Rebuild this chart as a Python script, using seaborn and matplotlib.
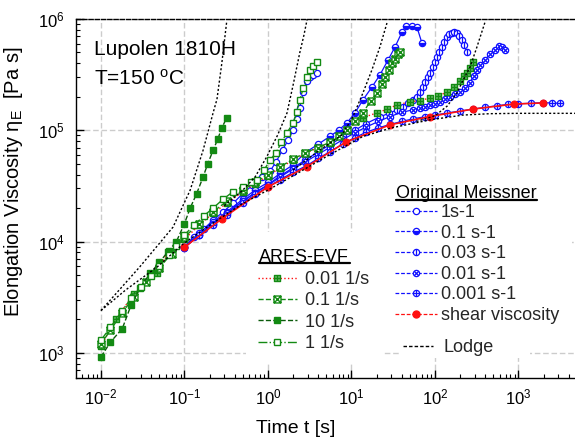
import numpy as np
import pandas as pd
import matplotlib
matplotlib.use("Agg")
import matplotlib.pyplot as plt
import seaborn as sns
from matplotlib.path import Path
from matplotlib.patches import Rectangle
from matplotlib.lines import Line2D

# ---------------- data ----------------
# ARES-EVF, 10 1/s
ares10_t = [0.01, 0.013, 0.018, 0.023, 0.029, 0.039, 0.05, 0.065, 0.08, 0.1, 0.117, 0.14, 0.167, 0.19, 0.22, 0.25, 0.28, 0.32]
ares10_eta = [920, 1250, 1650, 2700, 3800, 5200, 6500, 8300, 1.0e4, 1.45e4, 2.0e4, 2.7e4, 3.8e4, 5.0e4, 6.6e4, 8.3e4, 1.05e5, 1.29e5]
# ARES-EVF, 1 1/s
ares1_t = [0.01, 0.013, 0.018, 0.023, 0.03, 0.04, 0.05, 0.065, 0.08, 0.1, 0.13, 0.17, 0.22, 0.29, 0.38, 0.5, 0.62, 0.74,
           0.9, 1.06, 1.25, 1.45, 1.69, 2.0, 2.2, 2.4, 2.65, 2.9, 3.2, 3.5, 3.87]
ares1_eta = [1300, 1700, 2400, 3100, 3900, 4900, 6000, 7600, 9200, 1.15e4, 1.4e4, 1.7e4, 2.0e4, 2.4e4, 2.8e4, 3.1e4, 3.4e4, 3.6e4,
             4.4e4, 5.4e4, 6.3e4, 7.8e4, 9.5e4, 1.16e5, 1.45e5, 1.87e5, 2.4e5, 3.0e5, 3.5e5, 3.8e5, 4.1e5]
# ARES-EVF, 0.1 1/s
ares01_t = [0.01, 0.013, 0.018, 0.025, 0.035, 0.05, 0.07, 0.1, 0.15, 0.22, 0.32, 0.5, 0.7, 1.0, 1.4, 2.0, 2.8, 4.0, 5.5, 7.0,
            8.8, 11, 13.7, 17, 20, 23, 25, 28, 30.5, 33, 36, 38]
ares01_eta = [1200, 1600, 2300, 3200, 4300, 5800, 7800, 1.1e4, 1.45e4, 1.85e4, 2.3e4, 2.9e4, 3.4e4, 4.0e4, 4.7e4, 5.5e4, 6.3e4,
              7.0e4, 7.8e4, 8.8e4, 1.0e5, 1.2e5, 1.43e5, 1.85e5, 2.16e5, 2.6e5, 3.0e5, 3.5e5, 4.0e5, 4.4e5, 4.8e5, 5.0e5]
# ARES-EVF, 0.01 1/s
ares001_t = [0.01, 0.015, 0.025, 0.047, 0.063, 0.1, 0.15, 0.22, 0.32, 0.5, 0.7, 1.0, 1.4, 2.0, 2.8, 4.0, 5.5, 8.8, 13.7, 20,
             27, 35, 50, 66, 87, 110, 139, 170, 200, 225, 241, 265, 285]
ares001_eta = [1150, 2000, 3400, 5200, 8000, 1.05e4, 1.4e4, 1.8e4, 2.2e4, 2.8e4, 3.3e4, 3.9e4, 4.6e4, 5.4e4, 6.2e4, 7.0e4,
               7.7e4, 1.0e5, 1.3e5, 1.43e5, 1.55e5, 1.69e5, 1.8e5, 1.85e5, 1.95e5, 2.05e5, 2.2e5, 2.45e5, 2.75e5, 3.05e5,
               3.3e5, 3.6e5, 4.1e5]

# Original Meissner, 1 s-1
m1_t = [0.1, 0.13, 0.17, 0.22, 0.29, 0.38, 0.5, 0.65, 0.85, 1.06, 1.25, 1.5, 1.75, 2.0, 2.2, 2.4, 2.65, 2.9, 3.2, 3.5, 3.87]
m1_eta = [9.0e3, 1.1e4, 1.3e4, 1.55e4, 1.85e4, 2.2e4, 2.7e4, 3.2e4, 3.8e4, 4.3e4, 5.2e4, 6.7e4, 8.2e4, 1.0e5, 1.25e5,
          1.6e5, 2.2e5, 2.8e5, 3.0e5, 3.15e5, 3.25e5]
# Original Meissner, 0.1 s-1
m01_t = [0.1, 0.15, 0.22, 0.32, 0.5, 0.7, 1.0, 1.4, 2.0, 2.8, 4.0, 5.5, 7.0, 8.8, 11.0, 13.7, 17.6, 21.9, 27.4, 33.2,
         40.3, 45, 53, 60.8, 69.8]
m01_eta = [9.0e3, 1.2e4, 1.5e4, 1.85e4, 2.4e4, 2.9e4, 3.4e4, 4.1e4, 4.9e4, 6.3e4, 7.5e4, 8.8e4, 1.0e5, 1.16e5, 1.43e5,
           1.87e5, 2.45e5, 3.14e5, 4.28e5, 5.6e5, 7.64e5, 8.65e5, 8.65e5, 8.47e5, 6.08e5]
# Original Meissner, 0.03 s-1
m003_t = [0.1, 0.15, 0.22, 0.32, 0.5, 0.7, 1.0, 1.4, 2.0, 2.8, 4.0, 5.5, 8.0, 11, 15, 21.9, 28, 35, 41, 47.5, 54, 60.8,
          66, 71.8, 77, 82, 88, 94.6, 100, 106, 113, 121, 130, 139, 149, 160, 171, 183, 196, 210, 225, 241]
m003_eta = [8.8e3, 1.15e4, 1.45e4, 1.8e4, 2.3e4, 2.75e4, 3.25e4, 3.9e4, 4.6e4, 5.4e4, 6.4e4, 7.4e4, 8.8e4, 1.0e5, 1.15e5,
            1.32e5, 1.42e5, 1.52e5, 1.63e5, 1.76e5, 1.88e5, 2.0e5, 2.2e5, 2.45e5, 2.7e5, 3.0e5, 3.3e5, 3.7e5, 4.1e5,
            4.56e5, 5.0e5, 5.6e5, 6.2e5, 6.9e5, 7.3e5, 7.5e5, 7.6e5, 7.5e5, 7.1e5, 6.5e5, 5.8e5, 5.0e5]
# Original Meissner, 0.01 s-1
m001_t = [0.1, 0.15, 0.22, 0.32, 0.5, 0.7, 1.0, 1.4, 2.0, 2.8, 4.0, 5.5, 8.0, 11, 15, 21, 29, 40, 55, 66, 77, 87, 100,
          115, 132, 151, 175, 200, 230, 262, 290, 318, 350, 398, 450, 525, 583, 640, 689]
m001_eta = [8.8e3, 1.15e4, 1.45e4, 1.8e4, 2.3e4, 2.75e4, 3.2e4, 3.8e4, 4.5e4, 5.2e4, 6.1e4, 7.0e4, 8.3e4, 9.5e4, 1.07e5,
            1.2e5, 1.33e5, 1.45e5, 1.53e5, 1.58e5, 1.63e5, 1.69e5, 1.74e5, 1.8e5, 1.9e5, 2.0e5, 2.1e5, 2.2e5, 2.4e5,
            2.66e5, 3.1e5, 3.5e5, 3.9e5, 4.3e5, 4.8e5, 5.3e5, 5.7e5, 5.6e5, 5.3e5]
# Original Meissner, 0.001 s-1
m0001_t = [0.1, 0.15, 0.22, 0.32, 0.5, 0.7, 1.0, 1.4, 2.0, 2.9, 4.0, 5.5, 8.0, 11, 15, 21, 29, 40, 55, 75, 100, 140, 200,
           285, 400, 550, 750, 1000, 1400, 1950, 2500, 3140]
m0001_eta = [8.9e3, 1.15e4, 1.4e4, 1.75e4, 2.2e4, 2.65e4, 3.1e4, 3.6e4, 4.2e4, 4.8e4, 5.6e4, 6.4e4, 7.6e4, 8.6e4, 9.6e4,
             1.05e5, 1.13e5, 1.2e5, 1.27e5, 1.32e5, 1.37e5, 1.43e5, 1.49e5, 1.55e5, 1.61e5, 1.66e5, 1.71e5, 1.73e5,
             1.75e5, 1.77e5, 1.76e5, 1.75e5]
# shear viscosity
shear_t = [0.1, 0.28, 1.0, 2.9, 8.6, 29, 87, 285, 880, 1950]
shear_eta = [8.9e3, 1.6e4, 3.1e4, 4.7e4, 7.85e4, 1.12e5, 1.33e5, 1.55e5, 1.72e5, 1.76e5]

# Lodge model curves
lodge_lve_t = [0.01, 0.02, 0.047, 0.096, 0.2, 0.5, 1.0, 2.0, 5.0, 13.7, 30, 87, 216, 457, 1000, 2000, 5000]
lodge_lve_eta = [2400, 3700, 5900, 9500, 1.4e4, 2.2e4, 2.9e4, 3.9e4, 5.8e4, 8.8e4, 1.05e5, 1.24e5, 1.37e5, 1.41e5,
                 1.42e5, 1.42e5, 1.42e5]
lodge10_t = [0.01, 0.029, 0.073, 0.117, 0.167, 0.22, 0.245, 0.28, 0.32]
lodge10_eta = [2400, 5900, 1.35e4, 2.9e4, 6.6e4, 1.43e5, 1.9e5, 4.0e5, 9.4e5]
lodge1_t = [0.3, 0.5, 0.7, 0.97, 1.3, 1.69, 2.0, 2.4, 2.7, 2.95]
lodge1_eta = [2.1e4, 2.9e4, 3.8e4, 5.8e4, 9.0e4, 1.43e5, 2.55e5, 4.95e5, 7.2e5, 1.0e6]
lodge01_t = [2.0, 4.0, 7.7, 10.4, 13.7, 17.6, 21.9, 26.6]
lodge01_eta = [4.4e4, 6.5e4, 9.1e4, 1.32e5, 2.16e5, 3.5e5, 5.6e5, 9.2e5]
lodge001_t = [60, 100, 140, 183, 216, 263, 318, 398]
lodge001_eta = [1.2e5, 1.35e5, 1.65e5, 2.16e5, 2.8e5, 3.7e5, 5.6e5, 9.4e5]

ares_labels = ["0.01 1/s", "0.1 1/s", "10 1/s", "1 1/s"]
meissner_labels = ["1s-1", "0.1 s-1", "0.03 s-1", "0.01 s-1", "0.001 s-1", "shear viscosity"]

# ---------------- style ----------------
sns.set_theme(style="white")
plt.rcParams['font.family'] = ['Liberation Sans', 'DejaVu Sans']
plt.rcParams['mathtext.fontset'] = 'custom'
plt.rcParams['mathtext.rm'] = 'Liberation Sans'
plt.rcParams['mathtext.it'] = 'Liberation Sans:italic'
plt.rcParams['mathtext.default'] = 'regular'

W, H = 575, 444
fig = plt.figure(figsize=(W / 100, H / 100), dpi=100)
L, R, T, B = 76, 575, 19, 378
ax = fig.add_axes([L / W, 1 - B / H, (R - L) / W, (B - T) / H])
ax.set_xscale('log')
ax.set_yscale('log')
ax.set_xlim(10 ** -2.299, 10 ** 3.677)
ax.set_ylim(10 ** 2.774, 1e6)


def fx(x):
    return x / W


def fy(y):
    return 1 - y / H


# marker paths
circ = Path.unit_circle()
vl = Path([[0, -1], [0, 1]], [Path.MOVETO, Path.LINETO])
hl = Path([[-1, 0], [1, 0]], [Path.MOVETO, Path.LINETO])
d1 = Path([[-0.7, -0.7], [0.7, 0.7]], [Path.MOVETO, Path.LINETO])
d2 = Path([[-0.7, 0.7], [0.7, -0.7]], [Path.MOVETO, Path.LINETO])
circ_v = Path.make_compound_path(circ, vl)
circ_x = Path.make_compound_path(circ, d1, d2)
circ_p = Path.make_compound_path(circ, vl, hl)
sq = Path([[-1, -1], [1, -1], [1, 1], [-1, 1], [-1, -1]],
          [Path.MOVETO, Path.LINETO, Path.LINETO, Path.LINETO, Path.CLOSEPOLY])
sx1 = Path([[-1, -1], [1, 1]], [Path.MOVETO, Path.LINETO])
sx2 = Path([[-1, 1], [1, -1]], [Path.MOVETO, Path.LINETO])
sq_x = Path.make_compound_path(sq, sx1, sx2)
sq_p = Path.make_compound_path(sq, vl, hl)

blue = '#1010ff'
green = '#138a13'
lgreen = '#6fbf6f'
red = '#ff1010'

meissner_styles = [
    dict(marker='o', mfc='white', mec=blue),
    dict(marker='o', fillstyle='bottom', mfc=blue, mfcalt='white', mec=blue),
    dict(marker=circ_v, mfc='white', mec=blue),
    dict(marker=circ_x, mfc='white', mec=blue),
    dict(marker=circ_p, mfc='white', mec=blue),
]
meissner_data = [(m1_t, m1_eta), (m01_t, m01_eta), (m003_t, m003_eta), (m001_t, m001_eta), (m0001_t, m0001_eta)]

for (t, e), st in zip(meissner_data, meissner_styles):
    df = pd.DataFrame({'t': t, 'eta': e})
    sns.lineplot(data=df, x='t', y='eta', ax=ax, color=blue, lw=0.9, ls='-', ms=4.5, mew=0.9,
                 errorbar=None, zorder=3, **st)

ares_data = [(ares001_t, ares001_eta), (ares01_t, ares01_eta), (ares10_t, ares10_eta), (ares1_t, ares1_eta)]
ares_styles = [
    dict(color=red, ls=':', marker=sq_p, mfc=lgreen, mec=green),
    dict(color=green, ls='--', marker=sq_x, mfc='white', mec=green),
    dict(color='#0a5a0a', ls='--', marker='s', mfc=green, mec=green),
    dict(color=green, ls='-.', marker='s', mfc='white', mec=green),
]
for (t, e), st in zip(ares_data, ares_styles):
    df = pd.DataFrame({'t': t, 'eta': e})
    sns.lineplot(data=df, x='t', y='eta', ax=ax, lw=1.0, ms=5, mew=1.0, errorbar=None, zorder=4, **st)

df = pd.DataFrame({'t': shear_t, 'eta': shear_eta})
sns.lineplot(data=df, x='t', y='eta', ax=ax, color=red, lw=1.2, marker='o', ms=5, mfc=red, mec=red,
             errorbar=None, zorder=5)

for t, e in [(lodge_lve_t, lodge_lve_eta), (lodge10_t, lodge10_eta), (lodge1_t, lodge1_eta),
             (lodge01_t, lodge01_eta), (lodge001_t, lodge001_eta)]:
    df = pd.DataFrame({'t': t, 'eta': e})
    sns.lineplot(data=df, x='t', y='eta', ax=ax, color='black', lw=1.0, ls=(0, (1.5, 1.5)),
                 errorbar=None, zorder=6)

# grid
ax.set_axisbelow(True)
ax.grid(True, which='major', color='#cccccc', ls=(0, (4, 2)), lw=1.0)

# white legend areas covering grid
for (x0, y0, x1, y1) in [(246, 232, 383, 362), (383, 170, 572, 340), (400, 336, 530, 358)]:
    ax.add_patch(Rectangle((fx(x0), fy(y1)), fx(x1) - fx(x0), fy(y0) - fy(y1), transform=fig.transFigure,
                           facecolor='white', edgecolor='none', zorder=1))

# spines & ticks
ax.spines['right'].set_visible(False)
ax.spines['top'].set_linestyle((0, (3, 1.5)))
for s in ['left', 'bottom', 'top']:
    ax.spines[s].set_color('black')
    ax.spines[s].set_linewidth(1.0)
ax.tick_params(which='major', direction='in', length=6, width=1, color='black', labelsize=12,
               bottom=True, left=True, top=False, right=False, labelcolor='black')
ax.tick_params(which='minor', direction='in', length=3, width=0.8, color='black',
               bottom=True, left=True, top=False, right=False)
ax.tick_params(axis='x', which='major', pad=7)
ax.tick_params(axis='y', which='major', pad=8)
ax.set_xticks([1e-2, 1e-1, 1, 10, 100, 1000])
ax.set_yticks([1e3, 1e4, 1e5, 1e6])
ax.xaxis.set_minor_locator(matplotlib.ticker.LogLocator(base=10, subs=np.arange(2, 10), numticks=20))
ax.yaxis.set_minor_locator(matplotlib.ticker.LogLocator(base=10, subs=np.arange(2, 10), numticks=20))
ax.xaxis.set_minor_formatter(matplotlib.ticker.NullFormatter())
ax.yaxis.set_minor_formatter(matplotlib.ticker.NullFormatter())

ax.set_xlabel("Time t [s]", fontsize=14, color='black')
ax.set_ylabel(r"Elongation Viscosity $\eta_E$  [Pa s]", fontsize=14.5, color='black')
ax.xaxis.set_label_coords((296 - L) / (R - L), -(420 - B) / (B - T))
ax.yaxis.set_label_coords(-(L - 25) / (R - L), (B - 182) / (B - T))

# annotations
fig.text(fx(94), fy(55), "Lupolen 1810H", fontsize=15, va='baseline', ha='left', color='black')
fig.text(fx(94), fy(85), r"T=150 $^{o}$C", fontsize=15, va='baseline', ha='left', color='black')

# legend titles with underline
fig.text(fx(259), fy(262), "ARES-EVF", fontsize=13, va='baseline', ha='left', color='black')
fig.add_artist(Line2D([fx(259), fx(350)], [fy(263), fy(263)], color='black', lw=1.6))
fig.text(fx(396), fy(198), "Original Meissner", fontsize=13, va='baseline', ha='left', color='black')
fig.add_artist(Line2D([fx(396), fx(537)], [fy(200), fy(200)], color='black', lw=1.6))

# ARES legend
ares_handles = []
for st in ares_styles:
    ares_handles.append(Line2D([], [], lw=1.0, ms=5, mew=1.0, **st))
leg1 = fig.legend(ares_handles, ares_labels, loc='upper left', bbox_to_anchor=(fx(258), fy(271)),
                  frameon=False, fontsize=13, handlelength=2.15, handletextpad=0.45, borderpad=0,
                  borderaxespad=0, labelspacing=0.24)
# Meissner legend
m_handles = []
for st in meissner_styles:
    m_handles.append(Line2D([], [], color=blue, lw=0.9, ls=(0, (3, 1.5)), ms=4.5, mew=0.9, **st))
m_handles.append(Line2D([], [], color=red, lw=0.9, ls=(0, (3, 1.5)), marker='o', ms=5, mfc=red, mec=red))
leg2 = fig.legend(m_handles, meissner_labels, loc='upper left', bbox_to_anchor=(fx(395), fy(204)),
                  frameon=False, fontsize=13, handlelength=2.33, handletextpad=0.2, borderpad=0,
                  borderaxespad=0, labelspacing=0.2)
leg3 = fig.legend([Line2D([], [], color='black', lw=1.0, ls=(0, (2.5, 1.5)))], ["Lodge"], loc='upper left',
                  bbox_to_anchor=(fx(403), fy(339)), frameon=False, fontsize=13, handlelength=1.67,
                  handletextpad=0.6, borderpad=0, borderaxespad=0)

fig.savefig("out.png", dpi=100)
